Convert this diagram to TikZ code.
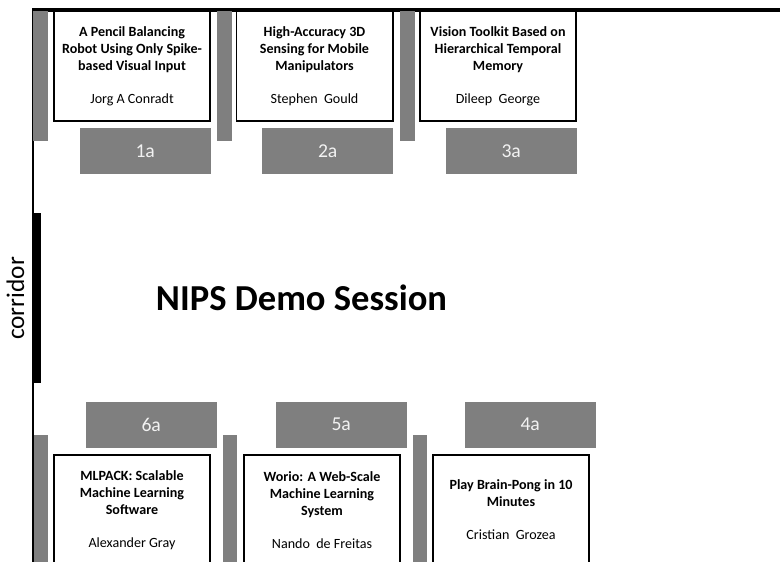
\documentclass[tikz,border=0pt]{standalone}
\usepackage{fontspec}
\setmainfont{Carlito}
\usetikzlibrary{positioning}
\definecolor{boothgray}{HTML}{7F7F7F}
\definecolor{tagtext}{HTML}{F2F2F2}
\tikzset{
  wall/.style     = {line width=2.1pt},
  outer wall/.style= {line width=2.8pt},
  poster/.style   = {draw, line width=1.4pt, fill=white, inner sep=0pt,
                     minimum width=3.9cm, minimum height=2.75cm, align=center,
                     font=\fontsize{10}{12}\selectfont},
  boothtag/.style = {fill=boothgray, text=tagtext, inner sep=0pt,
                     minimum width=3.275cm, minimum height=1.15cm,
                     font=\fontsize{14}{16}\selectfont},
  easel/.style    = {fill=boothgray},
}

\begin{document}
\begin{tikzpicture}[x=0.025cm,y=-0.025cm]
  \useasboundingbox (0,0) rectangle (780,561);
  \clip (0,0) rectangle (780,561);

  % room walls
  \draw[outer wall] (32,10) -- (790,10);
  \draw[wall] (33,10) -- (33,600);
  \fill (32,213) rectangle (41,383);

  % easel boards behind the posters
  \foreach \x in {33,217,400}
    \fill[easel] (\x,11) rectangle (\x+14.5,141);
  \foreach \x in {34,223,413}
    \fill[easel] (\x,435) rectangle (\x+14,600);

  % top row
  \node[poster] (p1) at (132,66) {\textbf{A Pencil Balancing}\\\textbf{Robot Using Only Spike-}\\\textbf{based Visual Input}\\[11.5pt]Jorg A Conradt};
  \node[poster] (p2) at (314.5,66) {\textbf{High-Accuracy 3D}\\\textbf{Sensing for Mobile}\\\textbf{Manipulators}\\[11.5pt]Stephen~~Gould};
  \node[poster] (p3) at (498,66) {\textbf{Vision Toolkit Based on}\\\textbf{Hierarchical Temporal}\\\textbf{Memory}\\[11.5pt]Dileep~~George};
  \node[boothtag, below left=0.15cm and 0cm of p1.south east] (t1) {1a};
  \node[boothtag, below left=0.15cm and 0cm of p2.south east] (t2) {2a};
  \node[boothtag, below left=0.15cm and 0cm of p3.south east] (t3) {3a};

  % bottom row
  \node[poster] (p6) at (132,510) {\textbf{MLPACK: Scalable}\\\textbf{Machine Learning}\\\textbf{Software}\\[11.5pt]Alexander Gray};
  \node[poster] (p5) at (322,510) {\textbf{Worio: A Web-Scale}\\\textbf{Machine Learning}\\\textbf{System}\\[11.5pt]Nando~~de Freitas};
  \node[poster] (p4) at (511,510) {\textbf{Play Brain-Pong in 10}\\\textbf{Minutes}\\[11.5pt]Cristian~~Grozea};
  \node[boothtag, above left=0.15cm and -0.15cm of p6.north east] (t6) {6a};
  \node[boothtag, above left=0.15cm and -0.15cm of p5.north east] (t5) {5a};
  \node[boothtag, above left=0.15cm and -0.15cm of p4.north east] (t4) {4a};

  % labels
  \node[font=\bfseries\fontsize{26}{30}\selectfont] (session) at (301.5,298) {NIPS Demo Session};
  \node[rotate=90, font=\fontsize{18}{20}\selectfont] (corridor) at (15.5,298.5) {corridor};
\end{tikzpicture}
\end{document}
